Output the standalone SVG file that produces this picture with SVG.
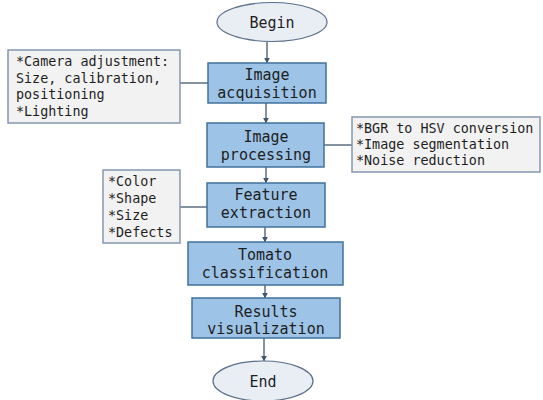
<svg xmlns="http://www.w3.org/2000/svg" width="543" height="400" viewBox="0 0 543 400">
<defs>
<style>
.box{fill:#9dc3e6;stroke:#41719c;stroke-width:1.5}
.note{fill:#f2f2f2;stroke:#8497b0;stroke-width:1.5}
.term{fill:#e9edf4;stroke:#5b6f88;stroke-width:1.2}
.t{font-family:"DejaVu Sans Mono","Liberation Mono",monospace;font-size:15px;fill:#1e1e1e;text-anchor:middle}
.n{font-family:"DejaVu Sans Mono","Liberation Mono",monospace;font-size:13.4px;fill:#1e1e1e}
.c{stroke:#41576e;stroke-width:1.3;fill:none}
.a{stroke:#41576e;stroke-width:1.3;fill:none;marker-end:url(#ah)}
</style>
<marker id="ah" viewBox="0 0 10 10" refX="9" refY="5" markerWidth="6" markerHeight="6" orient="auto" markerUnits="userSpaceOnUse">
<path d="M0,0 L10,5 L0,10 z" fill="#41576e"/>
</marker>
</defs>
<rect width="543" height="400" fill="#ffffff"/>
<g id="connectors">
<line class="a" x1="267" y1="42" x2="267" y2="63"/>
<line class="a" x1="266" y1="103" x2="266" y2="123"/>
<line class="a" x1="266" y1="167" x2="266" y2="183"/>
<line class="a" x1="265" y1="227" x2="265" y2="242"/>
<line class="a" x1="265" y1="285" x2="265" y2="298"/>
<line class="a" x1="264" y1="338" x2="264" y2="361"/>
<line class="c" x1="180" y1="83" x2="208" y2="83"/>
<line class="c" x1="324" y1="145" x2="352" y2="145"/>
<line class="c" x1="180" y1="207" x2="207" y2="207"/>
</g>
<g id="begin">
<ellipse class="term" cx="272" cy="22" rx="55" ry="19.5"/>
<text class="t" x="272" y="28">Begin</text>
</g>
<g id="acquisition">
<rect class="box" x="208" y="63" width="118" height="40"/>
<text class="t" x="267" y="80">Image</text>
<text class="t" x="267" y="98">acquisition</text>
</g>
<g id="processing">
<rect class="box" x="207" y="123" width="117" height="44"/>
<text class="t" x="266" y="142">Image</text>
<text class="t" x="266" y="160">processing</text>
</g>
<g id="feature">
<rect class="box" x="207" y="183" width="118" height="44"/>
<text class="t" x="266" y="200">Feature</text>
<text class="t" x="266" y="218">extraction</text>
</g>
<g id="classification">
<rect class="box" x="188" y="242" width="155" height="43"/>
<text class="t" x="265" y="260">Tomato</text>
<text class="t" x="265" y="278">classification</text>
</g>
<g id="results">
<rect class="box" x="192" y="298" width="148" height="40"/>
<text class="t" x="266" y="317">Results</text>
<text class="t" x="266" y="334">visualization</text>
</g>
<g id="end">
<ellipse class="term" cx="263" cy="381" rx="50" ry="20"/>
<text class="t" x="263" y="387">End</text>
</g>
<g id="note-camera">
<rect class="note" x="8" y="50" width="172" height="73"/>
<text class="n" x="16" y="66">*Camera adjustment:</text>
<text class="n" x="16" y="83">Size, calibration,</text>
<text class="n" x="16" y="99">positioning</text>
<text class="n" x="16" y="116">*Lighting</text>
</g>
<g id="note-processing">
<rect class="note" x="352" y="117" width="188" height="55"/>
<text class="n" x="356" y="133">*BGR to HSV conversion</text>
<text class="n" x="356" y="149">*Image segmentation</text>
<text class="n" x="356" y="165">*Noise reduction</text>
</g>
<g id="note-features">
<rect class="note" x="103" y="170" width="77" height="73"/>
<text class="n" x="108" y="186">*Color</text>
<text class="n" x="108" y="203">*Shape</text>
<text class="n" x="108" y="220">*Size</text>
<text class="n" x="108" y="237">*Defects</text>
</g>
</svg>
